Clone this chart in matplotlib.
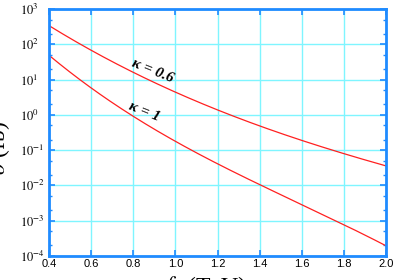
import matplotlib
matplotlib.use("Agg")
import matplotlib.pyplot as plt
import numpy as np
from matplotlib.ticker import LogLocator, FixedLocator, FuncFormatter, NullFormatter

plt.rcParams['mathtext.fontset'] = 'stix'

# values
f_pi = [0.4, 0.6, 0.8, 1.0, 1.2, 1.4, 1.6, 1.8, 2.0]
sigma_k06 = [340, 63, 18.5, 4.3, 1.26, 0.48, 0.2, 0.081, 0.035]
sigma_k1 = [51, 5.2, 1.0, 0.165, 0.044, 0.0107, 0.0028, 0.00074, 0.0002]
x_ticks = [0.4, 0.6, 0.8, 1.0, 1.2, 1.4, 1.6, 1.8, 2.0]

blue = '#1f8bff'
grid_c = '#7ff5ff'

fig = plt.figure(figsize=(4, 2.8), dpi=100)
ax = fig.add_axes([49 / 400, 1 - 256 / 280, 337 / 400, 247 / 280])

# smooth curve through the read points (cubic in log space)
xs = np.linspace(0.4, 2.0, 200)
for ys in (sigma_k06, sigma_k1):
    c = np.polyfit(f_pi, np.log10(ys), 3)
    ax.plot(xs, 10 ** np.polyval(c, xs), color='#ff2020', lw=0.9)

ax.set_yscale('log')
ax.set_xlim(0.4, 2.0)
ax.set_ylim(1e-4, 1e3)
ax.xaxis.set_major_locator(FixedLocator(x_ticks))
ax.yaxis.set_major_locator(LogLocator(base=10, numticks=20))
ax.yaxis.set_minor_locator(LogLocator(base=10, subs=(2.0, 5.0), numticks=20))
ax.yaxis.set_minor_formatter(NullFormatter())
ax.yaxis.set_major_formatter(FuncFormatter(lambda v, p: r'$10^{%d}$' % round(np.log10(v))))

ax.grid(True, which='major', color=grid_c, lw=1.0)
for s in ax.spines.values():
    s.set_color(blue)
    s.set_linewidth(2.0)
ax.tick_params(which='both', direction='in', top=True, right=True, color=blue)
ax.tick_params(which='major', length=4, width=1.2)
ax.tick_params(which='minor', length=2.5, width=1.0)
ax.tick_params(axis='y', labelsize=9, pad=21)
ax.tick_params(axis='x', labelsize=8, pad=2)
for t in ax.get_xticklabels():
    t.set_fontfamily('Liberation Sans')
for t in ax.get_yticklabels():
    t.set_fontfamily('Liberation Serif')
    t.set_horizontalalignment('left')

ax.text(0.89, 17, 'κ = 0.6', rotation=-22, ha='center', va='center',
        fontsize=11, fontweight='bold', fontstyle='italic', family='Liberation Serif')
ax.text(0.85, 1.2, 'κ = 1', rotation=-22, ha='center', va='center',
        fontsize=11, fontweight='bold', fontstyle='italic', family='Liberation Serif')

fig.text(-0.035, 0.47, r'$\sigma$ (fb)', rotation=90, ha='left', va='center',
         fontsize=17, family='Liberation Serif')
fig.text(0.51, -0.07, r'$f_\pi$ (TeV)', ha='center', va='bottom',
         fontsize=17, family='Liberation Serif')

fig.savefig('out.png', dpi=100)
